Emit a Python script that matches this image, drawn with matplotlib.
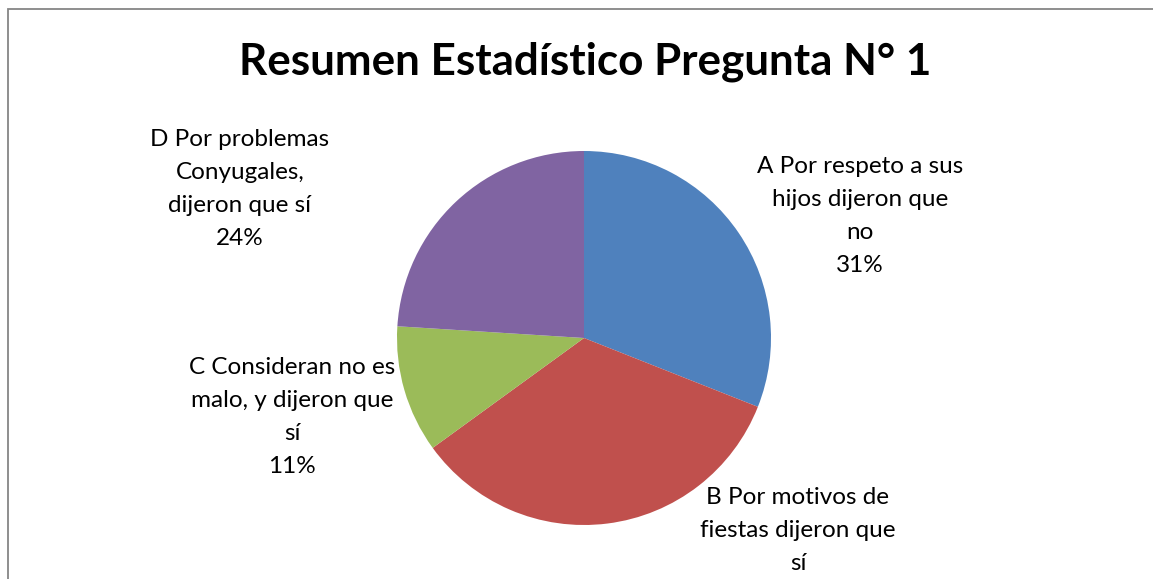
import matplotlib
matplotlib.use("Agg")
import matplotlib.pyplot as plt
from matplotlib.patches import Rectangle

categories = ["A Por respeto a sus\nhijos dijeron que\nno",
              "B Por motivos de\nfiestas dijeron que\nsí",
              "C Consideran no es\nmalo, y dijeron que\nsí",
              "D Por problemas\nConyugales,\ndijeron que sí"]
values = [31, 34, 11, 24]
colors = ["#4F81BD", "#C0504D", "#9BBB59", "#8064A2"]
title = "Resumen Estadístico Pregunta N° 1"

W, H = 1153, 579
plt.rcParams['font.family'] = ['Lato', 'DejaVu Sans']
fig = plt.figure(figsize=(W / 100, H / 100), dpi=100)

# frame
fig.patches.append(Rectangle((8 / W, -0.1), 1.2, (H - 9) / H + 0.1,
                             transform=fig.transFigure, fill=False,
                             edgecolor="#868686", linewidth=1.3))

cx, cy, r = 584, 338, 187
ax = fig.add_axes([(cx - r) / W, (H - cy - r) / H, 2 * r / W, 2 * r / H])
ax.pie(values, colors=colors, startangle=90, counterclock=False, radius=1,
       wedgeprops=dict(linewidth=0))
ax.set_xlim(-1, 1)
ax.set_ylim(-1, 1)
ax.set_aspect("auto")
ax.axis("off")

fig.text(585 / W, 1 - 62 / H, title, ha="center", va="center",
         fontsize=31.7, fontweight="bold")

label_pos = [(860, 216), (798, 547), (292, 417), (240, 189)]
for cat, v, (px, py) in zip(categories, values, label_pos):
    fig.text(px / W, 1 - py / H, f"{cat}\n{v}%", ha="center", va="center",
             fontsize=17.5, linespacing=1.69)

fig.savefig("out.png", dpi=100)
